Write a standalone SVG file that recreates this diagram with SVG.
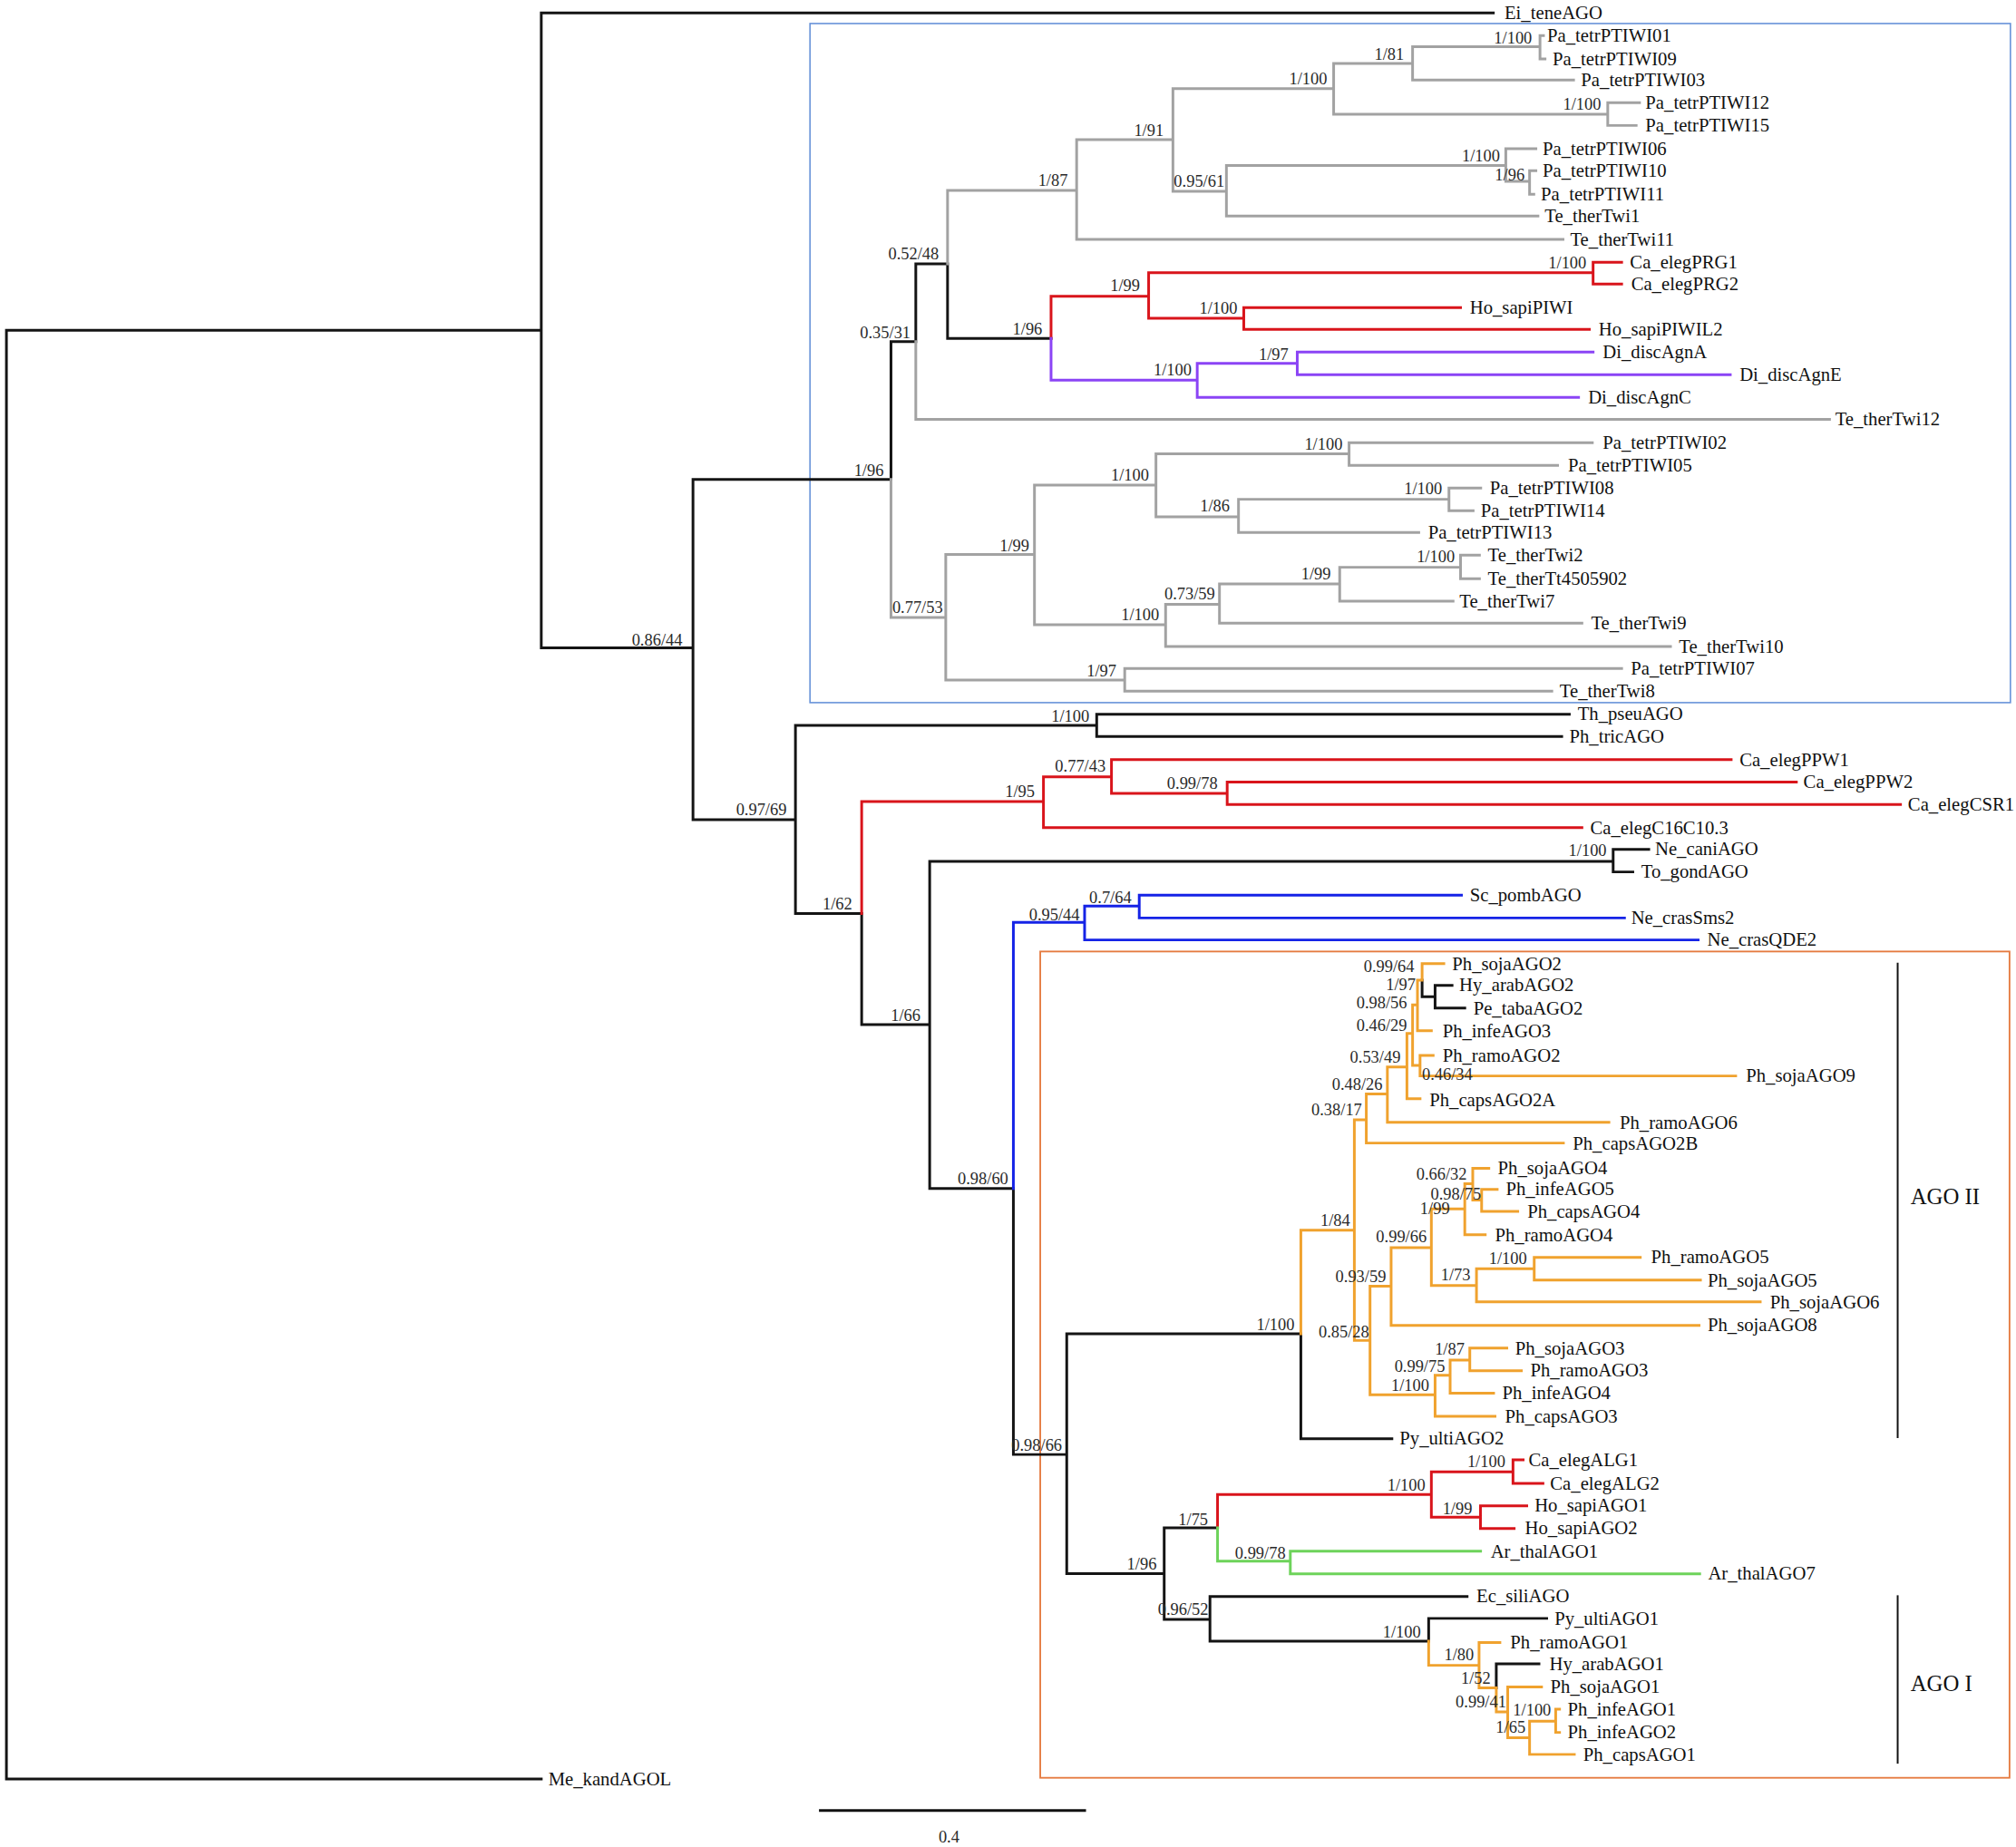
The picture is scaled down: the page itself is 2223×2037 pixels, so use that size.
<svg xmlns="http://www.w3.org/2000/svg" width="2223" height="2037" viewBox="0 0 2223 2037">
<style>
.e{fill:none;stroke-width:2.1;stroke-linecap:square}
.k{stroke:#141414}.g{stroke:#a2a2a2}.r{stroke:#d9141b}.p{stroke:#8b44f5}.b{stroke:#1523e6}.o{stroke:#f0a22e}.gr{stroke:#6dd35a}
.l{font-family:"Liberation Serif","Times New Roman",serif;font-size:14.6px;fill:#111}
.s{font-family:"Liberation Serif","Times New Roman",serif;font-size:13px;fill:#2a2a2a}
.big{font-family:"Liberation Serif","Times New Roman",serif;font-size:17.5px;fill:#111}
</style>
<rect width="2223" height="2037" fill="#fff"/>
<g transform="scale(1.4177)">
<g id="frames">
<rect x="630" y="18.3" width="933.7" height="528.3" fill="none" stroke="#6490d8" stroke-width="1.1"/>
<rect x="809.1" y="740.2" width="753.9" height="642.8" fill="none" stroke="#e57a3f" stroke-width="1.3"/>
</g>
<g id="connectors">
<path class="e k" d="M5 257V1384M5 257H421M5 1384H421M421 10V504M421 10H1161.5M421 504H539M539 373V637.7M539 373H693M693 265.7V373M693 265.7H712.3M712.3 205.3V265.7M712.3 205.3H737M737 205.3V263.3M737 263.3H817.5M539 637.7H618.7M618.7 564.3V710.6M618.7 564.3H853M853 555.6V573M853 555.6H1220.6M853 573H1214.7M618.7 710.6H670.2M670.2 710.6V797M670.2 797H723.1M723.1 670.1V924.5M723.1 670.1H1254.7M1254.7 660.7V678.3M1254.7 660.7H1282.4M1254.7 678.3H1270M723.1 924.5H788.2M788.2 924.5V1131.5M788.2 1131.5H829.7M829.7 1037.6V1224.2M829.7 1037.6H1011.8M1011.8 1037.6V1119.2M1011.8 1119.2H1082.6M1106.1 762.5V775.4M1106.1 775.4H1116.2M1116.2 766.5V784.2M1116.2 766.5H1129.4M1116.2 784.2H1139.3M829.7 1224.2H905.5M905.5 1188.6V1259.8M905.5 1188.6H947M905.5 1259.8H941.1M941.1 1241.9V1276.7M941.1 1241.9H1141.1M941.1 1276.7H1111.2M1111.2 1259V1276.7M1111.2 1259H1203M1163.8 1294.3V1313M1163.8 1294.3H1197"/>
<path class="e g" d="M693 373V480.3M712.3 265.7V326.3M712.3 326.3H1423M737 148.1V205.3M737 148.1H837.4M837.4 108.6V186.2M837.4 108.6H912.3M837.4 186.2H1215.7M912.3 68.9V148.8M912.3 68.9H1037.3M912.3 148.8H953.9M1037.3 49.4V88.9M1037.3 49.4H1098.7M1037.3 88.9H1250.5M1098.7 36.4V62.3M1098.7 36.4H1197.8M1098.7 62.3H1223.9M1197.8 27.7V45.8M1197.8 27.7H1200.5M1197.8 45.8H1201.7M1250.5 79.9V97.6M1250.5 79.9H1275.2M1250.5 97.6H1272.6M953.9 128.8V168.1M953.9 128.8H1171.2M953.9 168.1H1196.2M1171.2 115.7V141M1171.2 115.7H1194.6M1171.2 141H1189.7M1189.7 132.8V151.2M1189.7 132.8H1194.6M1189.7 151.2H1193M693 480.3H735.6M735.6 431.4V529M735.6 431.4H804.6M804.6 377.4V486M804.6 377.4H899.1M899.1 353.1V402M899.1 353.1H1049.3M1049.3 344.4V362.1M1049.3 344.4H1238.5M1049.3 362.1H1211.5M899.1 402H963.3M963.3 388.4V414.3M963.3 388.4H1127M1127 379.7V397.3M1127 379.7H1151.7M1127 397.3H1145.8M963.3 414.3H1103.5M804.6 486H906.6M906.6 470.2V503M906.6 470.2H948.5M948.5 454.2V484.8M948.5 454.2H1042M1042 441.3V467.6M1042 441.3H1136M1136 431.9V450.2M1136 431.9H1150.7M1136 450.2H1150.7M1042 467.6H1130.2M948.5 484.8H1230.4M906.6 503H1299.3M735.6 529H874.8M874.8 520.1V537.7M874.8 520.1H1261.3M874.8 537.7H1207"/>
<path class="e r" d="M817.5 230.4V263.3M817.5 230.4H893.4M893.4 212.1V247.6M893.4 212.1H1239.1M1239.1 204.1V221M1239.1 204.1H1261.3M1239.1 221H1261.3M893.4 247.6H967.4M967.4 239.3V256.3M967.4 239.3H1136M967.4 256.3H1236.2M670.2 623.6V710.6M670.2 623.6H811.6M811.6 604.3V643.8M811.6 604.3H864.5M864.5 590.9V617.2M864.5 590.9H1346.5M864.5 617.2H954.5M954.5 608.3V625.9M954.5 608.3H1397.2M954.5 625.9H1478.2M811.6 643.8H1230.4M947 1162.7V1188.6M947 1162.7H1113.3M1113.3 1145V1180.3M1113.3 1145H1176.8M1176.8 1135.7V1154M1176.8 1135.7H1184.7M1176.8 1154H1200.1M1113.3 1180.3H1151.5M1151.5 1171.4V1189M1151.5 1171.4H1187.5M1151.5 1189H1177.7"/>
<path class="e p" d="M817.5 263.3V295.8M817.5 295.8H931.2M931.2 282.6V309.2M931.2 282.6H1009M1009 273.9V291.5M1009 273.9H1239.1M1009 291.5H1345.8M931.2 309.2H1227.8"/>
<path class="e b" d="M788.2 717.6V924.5M788.2 717.6H843.6M843.6 704.9V731.2M843.6 704.9H886.1M886.1 696.4V714.1M886.1 696.4H1136.7M886.1 714.1H1263.5M843.6 731.2H1320.8"/>
<path class="e gr" d="M947 1188.6V1214.4M947 1214.4H1003.6M1003.6 1206.7V1224.3M1003.6 1206.7H1151.6M1003.6 1224.3H1322"/>
<path class="e o" d="M1011.8 957V1037.6M1011.8 957H1053.4M1053.4 871.1V1042.8M1053.4 871.1H1062.7M1062.7 851V889.2M1062.7 851H1079.1M1062.7 889.2H1216M1079.1 830V873M1079.1 873H1251.4M1079.1 830H1094.3M1094.3 804V854.7M1094.3 854.7H1104.5M1094.3 804H1098.7M1098.7 781.8V828.8M1098.7 828.8H1104.5M1104.5 821V837M1104.5 821H1114.7M1104.5 837H1350M1098.7 781.8H1102.5M1102.5 762.5V801.8M1102.5 801.8H1113.3M1102.5 762.5H1106.1M1106.1 749.6V762.5M1106.1 749.6H1123M1053.4 1042.8H1065.6M1065.6 1000.5V1085M1065.6 1000.5H1082M1082 970.6V1031M1082 1031H1321.5M1082 970.6H1113.3M1113.3 940.5V1000M1113.3 940.5H1139.3M1139.3 920.8V960.5M1139.3 960.5H1155.2M1139.3 920.8H1145.5M1145.5 908.8V933.6M1145.5 908.8H1158M1145.5 933.6H1152.4M1152.4 925.2V942.4M1152.4 925.2H1164.5M1152.4 942.4H1180.5M1113.3 1000H1148.4M1148.4 987V1012.7M1148.4 987H1193.3M1193.3 978.1V995.8M1193.3 978.1H1275.8M1193.3 995.8H1322.6M1148.4 1012.7H1369.1M1065.6 1085H1116.2M1116.2 1069.8V1101.8M1116.2 1101.8H1162.8M1116.2 1069.8H1127.9M1127.9 1058.1V1083.8M1127.9 1083.8H1161.7M1127.9 1058.1H1143.2M1143.2 1048.7V1066.3M1143.2 1048.7H1172M1143.2 1066.3H1183.3M1111.2 1276.7V1295.5M1111.2 1295.5H1150.4M1150.4 1277.8V1313M1150.4 1277.8H1166.6M1150.4 1313H1163.8M1163.8 1313V1331.7M1163.8 1331.7H1172.7M1172.7 1312.4V1351.9M1172.7 1312.4H1199M1172.7 1351.9H1189.7M1189.7 1339V1364.8M1189.7 1364.8H1224.5M1189.7 1339H1210M1210 1329.6V1347.7M1210 1329.6H1213M1210 1347.7H1213"/>
</g>
<g id="leaves">
<g id="n-Ei_teneAGO"><text class="l" x="1170.2" y="14.7">Ei_teneAGO</text></g>
<g id="n-Pa_tetrPTIWI01"><text class="l" x="1203.4" y="32.3">Pa_tetrPTIWI01</text></g>
<g id="n-Pa_tetrPTIWI09"><text class="l" x="1207.6" y="50.5">Pa_tetrPTIWI09</text></g>
<g id="n-Pa_tetrPTIWI03"><text class="l" x="1229.7" y="67.1">Pa_tetrPTIWI03</text></g>
<g id="n-Pa_tetrPTIWI12"><text class="l" x="1279.8" y="84.7">Pa_tetrPTIWI12</text></g>
<g id="n-Pa_tetrPTIWI15"><text class="l" x="1279.8" y="102.4">Pa_tetrPTIWI15</text></g>
<g id="n-Pa_tetrPTIWI06"><text class="l" x="1199.8" y="120.5">Pa_tetrPTIWI06</text></g>
<g id="n-Pa_tetrPTIWI10"><text class="l" x="1199.8" y="137.6">Pa_tetrPTIWI10</text></g>
<g id="n-Pa_tetrPTIWI11"><text class="l" x="1198.5" y="156">Pa_tetrPTIWI11</text></g>
<g id="n-Te_therTwi1"><text class="l" x="1201.4" y="172.9">Te_therTwi1</text></g>
<g id="n-Te_therTwi11"><text class="l" x="1221.3" y="191">Te_therTwi11</text></g>
<g id="n-Ca_elegPRG1"><text class="l" x="1267.8" y="208.9">Ca_elegPRG1</text></g>
<g id="n-Ca_elegPRG2"><text class="l" x="1268.7" y="225.8">Ca_elegPRG2</text></g>
<g id="n-Ho_sapiPIWI"><text class="l" x="1143.2" y="243.9">Ho_sapiPIWI</text></g>
<g id="n-Ho_sapiPIWIL2"><text class="l" x="1243.4" y="261.1">Ho_sapiPIWIL2</text></g>
<g id="n-Di_discAgnA"><text class="l" x="1246.6" y="278.7">Di_discAgnA</text></g>
<g id="n-Di_discAgnE"><text class="l" x="1353" y="296.3">Di_discAgnE</text></g>
<g id="n-Di_discAgnC"><text class="l" x="1235.2" y="314">Di_discAgnC</text></g>
<g id="n-Te_therTwi12"><text class="l" x="1427.4" y="331.1">Te_therTwi12</text></g>
<g id="n-Pa_tetrPTIWI02"><text class="l" x="1246.6" y="349.2">Pa_tetrPTIWI02</text></g>
<g id="n-Pa_tetrPTIWI05"><text class="l" x="1219.6" y="366.9">Pa_tetrPTIWI05</text></g>
<g id="n-Pa_tetrPTIWI08"><text class="l" x="1158.8" y="384.5">Pa_tetrPTIWI08</text></g>
<g id="n-Pa_tetrPTIWI14"><text class="l" x="1151.7" y="402.1">Pa_tetrPTIWI14</text></g>
<g id="n-Pa_tetrPTIWI13"><text class="l" x="1110.7" y="419.1">Pa_tetrPTIWI13</text></g>
<g id="n-Te_therTwi2"><text class="l" x="1157.2" y="436.7">Te_therTwi2</text></g>
<g id="n-Te_therTt4505902"><text class="l" x="1157.2" y="455">Te_therTt4505902</text></g>
<g id="n-Te_therTwi7"><text class="l" x="1135.1" y="472.4">Te_therTwi7</text></g>
<g id="n-Te_therTwi9"><text class="l" x="1237.5" y="489.6">Te_therTwi9</text></g>
<g id="n-Te_therTwi10"><text class="l" x="1305.8" y="507.8">Te_therTwi10</text></g>
<g id="n-Pa_tetrPTIWI07"><text class="l" x="1268.4" y="524.9">Pa_tetrPTIWI07</text></g>
<g id="n-Te_therTwi8"><text class="l" x="1213.1" y="542.5">Te_therTwi8</text></g>
<g id="n-Th_pseuAGO"><text class="l" x="1227.1" y="560.4">Th_pseuAGO</text></g>
<g id="n-Ph_tricAGO"><text class="l" x="1220.6" y="577.8">Ph_tricAGO</text></g>
<g id="n-Ca_elegPPW1"><text class="l" x="1353" y="595.7">Ca_elegPPW1</text></g>
<g id="n-Ca_elegPPW2"><text class="l" x="1402.7" y="613.1">Ca_elegPPW2</text></g>
<g id="n-Ca_elegCSR1"><text class="l" x="1484" y="630.7">Ca_elegCSR1</text></g>
<g id="n-Ca_elegC16C10-3"><text class="l" x="1236.9" y="648.6">Ca_elegC16C10.3</text></g>
<g id="n-Ne_caniAGO"><text class="l" x="1287.3" y="665.5">Ne_caniAGO</text></g>
<g id="n-To_gondAGO"><text class="l" x="1276.5" y="683.1">To_gondAGO</text></g>
<g id="n-Sc_pombAGO"><text class="l" x="1143.2" y="701.2">Sc_pombAGO</text></g>
<g id="n-Ne_crasSms2"><text class="l" x="1268.7" y="718.9">Ne_crasSms2</text></g>
<g id="n-Ne_crasQDE2"><text class="l" x="1327.9" y="736">Ne_crasQDE2</text></g>
<g id="n-Ph_sojaAGO2"><text class="l" x="1129.5" y="754.4">Ph_sojaAGO2</text></g>
<g id="n-Hy_arabAGO2"><text class="l" x="1135" y="771.3">Hy_arabAGO2</text></g>
<g id="n-Pe_tabaAGO2"><text class="l" x="1146" y="789">Pe_tabaAGO2</text></g>
<g id="n-Ph_infeAGO3"><text class="l" x="1122" y="806.6">Ph_infeAGO3</text></g>
<g id="n-Ph_ramoAGO2"><text class="l" x="1122" y="825.8">Ph_ramoAGO2</text></g>
<g id="n-Ph_sojaAGO9"><text class="l" x="1358" y="841.8">Ph_sojaAGO9</text></g>
<g id="n-Ph_capsAGO2A"><text class="l" x="1111.8" y="860.3">Ph_capsAGO2A</text></g>
<g id="n-Ph_ramoAGO6"><text class="l" x="1259.8" y="878.3">Ph_ramoAGO6</text></g>
<g id="n-Ph_capsAGO2B"><text class="l" x="1223.3" y="894.3">Ph_capsAGO2B</text></g>
<g id="n-Ph_sojaAGO4"><text class="l" x="1165" y="913.6">Ph_sojaAGO4</text></g>
<g id="n-Ph_infeAGO5"><text class="l" x="1171.2" y="930">Ph_infeAGO5</text></g>
<g id="n-Ph_capsAGO4"><text class="l" x="1188" y="947.2">Ph_capsAGO4</text></g>
<g id="n-Ph_ramoAGO4"><text class="l" x="1162.8" y="965.3">Ph_ramoAGO4</text></g>
<g id="n-Ph_ramoAGO5"><text class="l" x="1284.2" y="982.9">Ph_ramoAGO5</text></g>
<g id="n-Ph_sojaAGO5"><text class="l" x="1328.2" y="1000.6">Ph_sojaAGO5</text></g>
<g id="n-Ph_sojaAGO6"><text class="l" x="1376.7" y="1017.5">Ph_sojaAGO6</text></g>
<g id="n-Ph_sojaAGO8"><text class="l" x="1328.2" y="1035.8">Ph_sojaAGO8</text></g>
<g id="n-Ph_sojaAGO3"><text class="l" x="1178.5" y="1053.5">Ph_sojaAGO3</text></g>
<g id="n-Ph_ramoAGO3"><text class="l" x="1190.3" y="1071.1">Ph_ramoAGO3</text></g>
<g id="n-Ph_infeAGO4"><text class="l" x="1168.4" y="1088.6">Ph_infeAGO4</text></g>
<g id="n-Ph_capsAGO3"><text class="l" x="1170.6" y="1106.6">Ph_capsAGO3</text></g>
<g id="n-Py_ultiAGO2"><text class="l" x="1088.6" y="1124">Py_ultiAGO2</text></g>
<g id="n-Ca_elegALG1"><text class="l" x="1188.9" y="1140.5">Ca_elegALG1</text></g>
<g id="n-Ca_elegALG2"><text class="l" x="1205.7" y="1158.8">Ca_elegALG2</text></g>
<g id="n-Ho_sapiAGO1"><text class="l" x="1193.6" y="1176.2">Ho_sapiAGO1</text></g>
<g id="n-Ho_sapiAGO2"><text class="l" x="1186.1" y="1193.8">Ho_sapiAGO2</text></g>
<g id="n-Ar_thalAGO1"><text class="l" x="1159.4" y="1211.5">Ar_thalAGO1</text></g>
<g id="n-Ar_thalAGO7"><text class="l" x="1328.5" y="1229.1">Ar_thalAGO7</text></g>
<g id="n-Ec_siliAGO"><text class="l" x="1148.4" y="1246.7">Ec_siliAGO</text></g>
<g id="n-Py_ultiAGO1"><text class="l" x="1209.1" y="1263.8">Py_ultiAGO1</text></g>
<g id="n-Ph_ramoAGO1"><text class="l" x="1174.7" y="1282.6">Ph_ramoAGO1</text></g>
<g id="n-Hy_arabAGO1"><text class="l" x="1205.1" y="1299.1">Hy_arabAGO1</text></g>
<g id="n-Ph_sojaAGO1"><text class="l" x="1205.9" y="1317.2">Ph_sojaAGO1</text></g>
<g id="n-Ph_infeAGO1"><text class="l" x="1219.3" y="1334.4">Ph_infeAGO1</text></g>
<g id="n-Ph_infeAGO2"><text class="l" x="1219.3" y="1352.5">Ph_infeAGO2</text></g>
<g id="n-Ph_capsAGO1"><text class="l" x="1231.4" y="1369.6">Ph_capsAGO1</text></g>
<g id="n-Me_kandAGOL"><text class="l" x="426.5" y="1388.8">Me_kandAGOL</text></g>
</g>
<g id="support">
<g id="s01"><text class="s" x="491.4" y="502.3">0.86/44</text></g>
<g id="s02"><text class="s" x="572.5" y="634.4">0.97/69</text></g>
<g id="s03"><text class="s" x="639.8" y="707.5">1/62</text></g>
<g id="s04"><text class="s" x="692.8" y="794.1">1/66</text></g>
<g id="s05"><text class="s" x="744.9" y="921.3">0.98/60</text></g>
<g id="s06"><text class="s" x="786.7" y="1128.3">0.98/66</text></g>
<g id="s07"><text class="s" x="664.2" y="370.3">1/96</text></g>
<g id="s08"><text class="s" x="668.9" y="263.3">0.35/31</text></g>
<g id="s09"><text class="s" x="690.9" y="201.8">0.52/48</text></g>
<g id="s10"><text class="s" x="694" y="476.9">0.77/53</text></g>
<g id="s11"><text class="s" x="807.4" y="144.3">1/87</text></g>
<g id="s12"><text class="s" x="882" y="105.9">1/91</text></g>
<g id="s13"><text class="s" x="1002.7" y="65.9">1/100</text></g>
<g id="s14"><text class="s" x="1069" y="46.3">1/81</text></g>
<g id="s15"><text class="s" x="1162" y="33.7">1/100</text></g>
<g id="s16"><text class="s" x="1215.7" y="85.4">1/100</text></g>
<g id="s17"><text class="s" x="913" y="145.3">0.95/61</text></g>
<g id="s18"><text class="s" x="1137" y="125.3">1/100</text></g>
<g id="s19"><text class="s" x="1162.7" y="140.7">1/96</text></g>
<g id="s20"><text class="s" x="1204.3" y="208.6">1/100</text></g>
<g id="s21"><text class="s" x="863.5" y="226.5">1/99</text></g>
<g id="s22"><text class="s" x="932.8" y="244.1">1/100</text></g>
<g id="s23"><text class="s" x="787.6" y="260.1">1/96</text></g>
<g id="s24"><text class="s" x="979" y="279.9">1/97</text></g>
<g id="s25"><text class="s" x="897.2" y="292.3">1/100</text></g>
<g id="s26"><text class="s" x="1014.6" y="349.9">1/100</text></g>
<g id="s27"><text class="s" x="864.1" y="374.1">1/100</text></g>
<g id="s28"><text class="s" x="1092.1" y="384.7">1/100</text></g>
<g id="s29"><text class="s" x="933.4" y="398.1">1/86</text></g>
<g id="s30"><text class="s" x="777.5" y="428.7">1/99</text></g>
<g id="s31"><text class="s" x="1101.9" y="437.4">1/100</text></g>
<g id="s32"><text class="s" x="1012" y="450.5">1/99</text></g>
<g id="s33"><text class="s" x="905.7" y="466.3">0.73/59</text></g>
<g id="s34"><text class="s" x="872" y="482.7">1/100</text></g>
<g id="s35"><text class="s" x="845.2" y="526.3">1/97</text></g>
<g id="s36"><text class="s" x="817.7" y="561.6">1/100</text></g>
<g id="s37"><text class="s" x="820.6" y="600.4">0.77/43</text></g>
<g id="s38"><text class="s" x="907.7" y="614">0.99/78</text></g>
<g id="s39"><text class="s" x="781.7" y="620.3">1/95</text></g>
<g id="s40"><text class="s" x="1220" y="666.2">1/100</text></g>
<g id="s41"><text class="s" x="847.2" y="702.2">0.7/64</text></g>
<g id="s42"><text class="s" x="800.4" y="715.6">0.95/44</text></g>
<g id="s43"><text class="s" x="1060.7" y="756.3">0.99/64</text></g>
<g id="s44"><text class="s" x="1078" y="770.3">1/97</text></g>
<g id="s45"><text class="s" x="1055" y="784.3">0.98/56</text></g>
<g id="s46"><text class="s" x="1055" y="802.3">0.46/29</text></g>
<g id="s47"><text class="s" x="1050" y="826.8">0.53/49</text></g>
<g id="s48"><text class="s" x="1106" y="840.3">0.46/34</text></g>
<g id="s49"><text class="s" x="1036" y="847.9">0.48/26</text></g>
<g id="s50"><text class="s" x="1020" y="867.3">0.38/17</text></g>
<g id="s51"><text class="s" x="1101.6" y="917.8">0.66/32</text></g>
<g id="s52"><text class="s" x="1112.7" y="933">0.98/75</text></g>
<g id="s53"><text class="s" x="1104.5" y="944.8">1/99</text></g>
<g id="s54"><text class="s" x="1027" y="953.7">1/84</text></g>
<g id="s55"><text class="s" x="1070.3" y="966.4">0.99/66</text></g>
<g id="s56"><text class="s" x="1158" y="983.3">1/100</text></g>
<g id="s57"><text class="s" x="1120.6" y="996.3">1/73</text></g>
<g id="s58"><text class="s" x="1038.7" y="997.7">0.93/59</text></g>
<g id="s59"><text class="s" x="1025.6" y="1040.5">0.85/28</text></g>
<g id="s60"><text class="s" x="1116" y="1054.1">1/87</text></g>
<g id="s61"><text class="s" x="1084.6" y="1067.1">0.99/75</text></g>
<g id="s62"><text class="s" x="1082" y="1082.3">1/100</text></g>
<g id="s63"><text class="s" x="977.3" y="1034.6">1/100</text></g>
<g id="s64"><text class="s" x="1141.2" y="1141.1">1/100</text></g>
<g id="s65"><text class="s" x="1079" y="1159.9">1/100</text></g>
<g id="s66"><text class="s" x="1122" y="1178.1">1/99</text></g>
<g id="s67"><text class="s" x="916.5" y="1186.5">1/75</text></g>
<g id="s68"><text class="s" x="960.6" y="1212.3">0.99/78</text></g>
<g id="s69"><text class="s" x="876.5" y="1221.1">1/96</text></g>
<g id="s70"><text class="s" x="900.6" y="1256.3">0.96/52</text></g>
<g id="s71"><text class="s" x="1075.5" y="1273.9">1/100</text></g>
<g id="s72"><text class="s" x="1123.3" y="1291.5">1/80</text></g>
<g id="s73"><text class="s" x="1136.3" y="1309.9">1/52</text></g>
<g id="s74"><text class="s" x="1132.2" y="1328.5">0.99/41</text></g>
<g id="s75"><text class="s" x="1176.8" y="1334.6">1/100</text></g>
<g id="s76"><text class="s" x="1163.4" y="1348">1/65</text></g>
</g>
<g id="clades">
<g id="clade-AGOII"><path d="M1476 748.9V1118.7" stroke="#111" stroke-width="1.4" fill="none"/><text class="big" x="1486" y="936.5">AGO II</text></g>
<g id="clade-AGOI"><path d="M1476 1241V1372" stroke="#111" stroke-width="1.4" fill="none"/><text class="big" x="1486" y="1315.5">AGO I</text></g>
</g>
<g id="scalebar"><path d="M637 1408.5H844.7" stroke="#111" stroke-width="2.1" fill="none"/><text class="s" x="730" y="1433">0.4</text></g>
</g>
</svg>
